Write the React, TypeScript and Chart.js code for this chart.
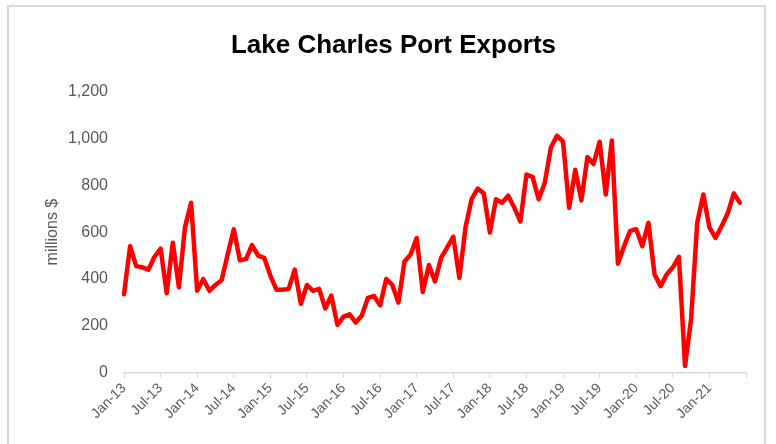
import { useEffect, useRef } from 'react';
import { Chart, registerables } from 'chart.js';

Chart.register(...registerables);

const MONTHS = ['Jan', 'Feb', 'Mar', 'Apr', 'May', 'Jun', 'Jul', 'Aug', 'Sep', 'Oct', 'Nov', 'Dec'];
const YEARS = ['13', '14', '15', '16', '17', '18', '19', '20', '21'];
// Jan-13 .. Jul-21 (axis span)
const CATEGORIES = YEARS.flatMap((y) => MONTHS.map((m) => `${m}-${y}`)).slice(0, 103);
const LAST_LABELLED = 96; // Jan-21

const exports2013 = [335, 540, 455, 450, 440, 495, 530, 340, 555, 365, 620, 725];
const exports2014 = [350, 400, 350, 375, 395, 505, 612, 480, 485, 545, 500, 490];
const exports2015 = [415, 355, 355, 358, 440, 295, 375, 350, 358, 275, 330, 205];
const exports2016 = [240, 250, 215, 245, 320, 328, 288, 400, 375, 300, 475, 505];
const exports2017 = [575, 345, 460, 390, 490, 535, 580, 405, 620, 740, 785, 765];
const exports2018 = [598, 740, 725, 755, 705, 645, 845, 835, 740, 810, 960, 1010];
const exports2019 = [985, 703, 865, 735, 920, 890, 985, 760, 990, 465, 540, 605];
const exports2020 = [612, 540, 640, 420, 370, 420, 450, 495, 30, 230, 640, 760];
const exports2021 = [620, 575, 625, 680, 765, 725];

const EXPORTS = [
  ...exports2013, ...exports2014, ...exports2015, ...exports2016, ...exports2017,
  ...exports2018, ...exports2019, ...exports2020, ...exports2021,
];

const FONT = 'Arial, "Liberation Sans", sans-serif';
const GREY_TEXT = '#595959';
const AXIS_GREY = '#d9d9d9';

export default function App() {
  const canvasRef = useRef<HTMLCanvasElement | null>(null);

  useEffect(() => {
    const canvas = canvasRef.current;
    if (!canvas) return;
    const chart = new Chart(canvas, {
      type: 'line',
      data: {
        labels: CATEGORIES,
        datasets: [
          {
            data: EXPORTS,
            borderColor: '#ff0000',
            backgroundColor: '#ff0000',
            borderWidth: 4.5,
            pointRadius: 0,
            tension: 0,
            fill: false,
            borderJoinStyle: 'round',
            borderCapStyle: 'round',
          },
        ],
      },
      options: {
        animation: false,
        responsive: false,
        maintainAspectRatio: false,
        layout: { padding: { left: 41, right: 30, top: 8, bottom: 0 } },
        plugins: {
          legend: { display: false },
          tooltip: { enabled: false },
          title: {
            display: true,
            text: 'Lake Charles Port Exports',
            color: '#000000',
            font: { family: FONT, size: 26, weight: 'bold', lineHeight: 1.2 },
            padding: { top: 22, bottom: 30 },
          },
        },
        scales: {
          x: {
            type: 'category',
            offset: false,
            grid: {
              display: true,
              drawOnChartArea: false,
              drawTicks: true,
              tickLength: 5,
              lineWidth: 1,
              color: (ctx: any) => (ctx.index % 6 === 0 ? AXIS_GREY : 'rgba(0,0,0,0)'),
            },
            border: { display: true, color: AXIS_GREY, width: 1.5 },
            ticks: {
              autoSkip: false,
              minRotation: 45,
              maxRotation: 45,
              padding: 2,
              color: GREY_TEXT,
              font: { family: FONT, size: 14 },
              callback: (_v: any, i: number) => (i % 6 === 0 && i <= LAST_LABELLED ? CATEGORIES[i] : ''),
            },
            afterFit: (s: any) => {
              s.height = 71;
            },
          },
          y: {
            min: 0,
            max: 1200,
            ticks: {
              stepSize: 200,
              padding: 16,
              color: GREY_TEXT,
              font: { family: FONT, size: 16 },
            },
            grid: { display: false, drawTicks: false },
            border: { display: false },
            title: {
              display: true,
              text: 'millions $',
              color: GREY_TEXT,
              font: { family: FONT, size: 16 },
              padding: { top: 2, bottom: 0 },
            },
            afterFit: (s: any) => {
              s.width = 83;
            },
          },
        },
      },
    });
    return () => chart.destroy();
  }, []);

  return (
    <div style={{ position: 'fixed', left: 0, top: 0, width: 776, height: 444, background: '#ffffff' }}>
      <div
        style={{
          position: 'absolute',
          left: 7,
          top: 5,
          width: 759,
          height: 460,
          border: `2px solid ${AXIS_GREY}`,
          boxSizing: 'border-box',
        }}
      />
      <canvas
        ref={canvasRef}
        width={776}
        height={444}
        style={{ position: 'absolute', left: 0, top: 0, width: 776, height: 444 }}
      />
    </div>
  );
}
